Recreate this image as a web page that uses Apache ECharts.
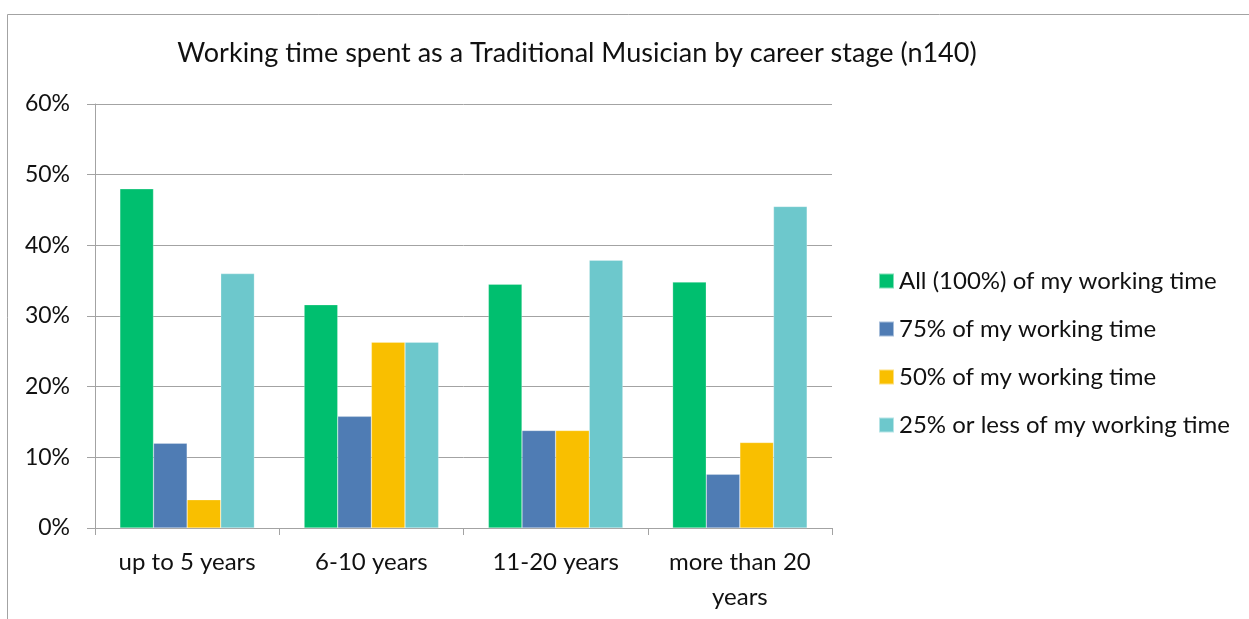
<!DOCTYPE html>
<html>
<head>
<meta charset="utf-8">
<script src="https://cdn.jsdelivr.net/npm/echarts@6/dist/echarts.min.js"></script>
<style>
  html, body { margin: 0; padding: 0; background: #fff; }
  #chart { width: 1249px; height: 619px; }
</style>
</head>
<body>
<div id="chart"></div>
<script>
// Career stages (x axis)
const categories = ['up to 5 years', '6-10 years', '11-20 years', 'more than 20\nyears'];

// Share of respondents (%) in each working-time band
const allTime = [48.0, 31.6, 34.5, 34.8];
const threeQuarters = [12.0, 15.8, 13.8, 7.6];
const half = [4.0, 26.3, 13.8, 12.1];
const quarterOrLess = [36.0, 26.3, 37.9, 45.5];

const seriesNames = [
  'All (100%) of my working time',
  '75% of my working time',
  '50% of my working time',
  '25% or less of my working time'
];
const seriesColors = ['#00BF6F', '#4F7CB4', '#F9BF00', '#6DC8CC'];
const seriesValues = [allTime, threeQuarters, half, quarterOrLess];

const FONT = 'Lato, "Open Sans", sans-serif';
const GRID_GRAY = '#a3a3a3';
const TEXT = '#111';

const chart = echarts.init(document.getElementById('chart'));
chart.setOption({
  backgroundColor: '#fff',
  animation: false,
  title: {
    text: 'Working time spent as a Traditional Musician by career stage (n140)',
    left: 572,
    textAlign: 'center',
    top: 35,
    textStyle: { fontFamily: FONT, fontSize: 27, fontWeight: 'normal', color: TEXT }
  },
  graphic: [{
    type: 'rect',
    shape: { x: 7.5, y: 14.5, width: 1400, height: 800 },
    style: { fill: 'none', stroke: GRID_GRAY, lineWidth: 1 },
    silent: true
  }],
  legend: {
    orient: 'vertical',
    left: 873,
    top: 264,
    itemWidth: 15,
    itemHeight: 15,
    itemGap: 24,
    icon: 'rect',
    textStyle: { fontFamily: FONT, fontSize: 24, color: TEXT, lineHeight: 24 },
    data: seriesNames
  },
  grid: { left: 95, right: 417, top: 104, bottom: 91 },
  xAxis: {
    type: 'category',
    data: categories,
    axisLine: { show: true, lineStyle: { color: GRID_GRAY, width: 1 } },
    axisTick: { show: true, length: 7, lineStyle: { color: GRID_GRAY } },
    axisLabel: {
      fontFamily: FONT, fontSize: 24, color: TEXT,
      margin: 17, lineHeight: 35, interval: 0
    }
  },
  yAxis: {
    type: 'value',
    min: 0,
    max: 60,
    interval: 10,
    axisLine: { show: true, lineStyle: { color: GRID_GRAY, width: 1 } },
    axisTick: { show: true, length: 8, lineStyle: { color: GRID_GRAY } },
    splitLine: { show: true, lineStyle: { color: GRID_GRAY, width: 1 } },
    axisLabel: {
      fontFamily: FONT, fontSize: 23, color: TEXT, margin: 25,
      formatter: '{value}%'
    }
  },
  series: seriesValues.map((vals, i) => ({
    name: seriesNames[i],
    type: 'bar',
    data: vals,
    barGap: '0%',
    barCategoryGap: '27%',
    itemStyle: { color: seriesColors[i], borderColor: 'rgba(255,255,255,0.5)', borderWidth: 0.5 }
  }))
});
</script>
</body>
</html>
